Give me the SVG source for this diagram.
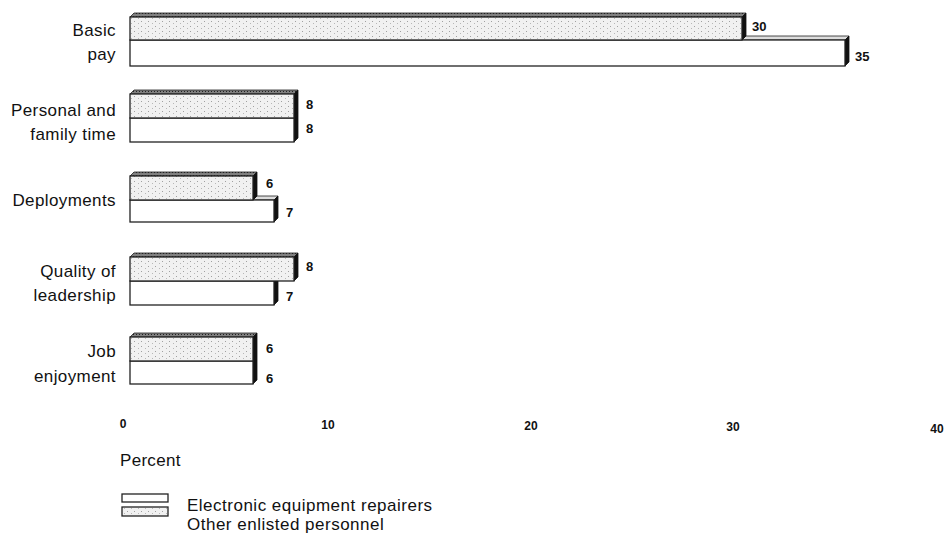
<svg xmlns="http://www.w3.org/2000/svg" width="948" height="538" viewBox="0 0 948 538">
<defs>
<pattern id="stip" width="7" height="5" patternUnits="userSpaceOnUse">
<rect width="7" height="5" fill="#f1f1f1"/>
<rect x="1" y="1" width="1" height="1" fill="#a0a0a0"/>
<rect x="5" y="3" width="1" height="1" fill="#b8b8b8"/>
</pattern>
<pattern id="darkstip" width="3" height="3" patternUnits="userSpaceOnUse">
<rect width="3" height="3" fill="#808080"/>
<rect x="1" y="1" width="1" height="1" fill="#222"/>
</pattern>
<style>
.lbl{font-family:"Liberation Sans",Arial,sans-serif;font-size:17px;letter-spacing:0.4px;fill:#111;text-anchor:end}
.val{font-family:"Liberation Sans",Arial,sans-serif;font-size:13px;font-weight:bold;fill:#111}
.ax{font-family:"Liberation Sans",Arial,sans-serif;font-size:12px;font-weight:bold;fill:#111;text-anchor:middle}
.txt{font-family:"Liberation Sans",Arial,sans-serif;font-size:17px;letter-spacing:0.5px;fill:#111}
.front{stroke:#222;stroke-width:1.3}
.w{fill:#fff}
.s{fill:url(#stip)}
.top{fill:url(#darkstip);stroke:#222;stroke-width:0.8}
.topw{fill:#ddd;stroke:#222;stroke-width:0.8}
.side{fill:#111;stroke:#111;stroke-width:0.8}
</style>
</defs>

<g id="basic-pay">
<text class="lbl" x="116" y="36">Basic</text>
<text class="lbl" x="116" y="60">pay</text>
<polygon class="topw" points="742,40 746,36 849,36 845,40"/>
<polygon class="side" points="845,40 849,36 849,62 845,66"/>
<rect class="front w" x="130" y="40" width="715" height="26"/>
<polygon class="top" points="130,17 134,13 746,13 742,17"/>
<polygon class="side" points="742,17 746,13 746,36 742,40"/>
<rect class="front s" x="130" y="17" width="612" height="23"/>
<text class="val" x="752" y="31">30</text>
<text class="val" x="855" y="61">35</text>
</g>

<g id="personal-family-time">
<text class="lbl" x="116" y="116">Personal and</text>
<text class="lbl" x="116" y="140">family time</text>
<polygon class="side" points="294,118 298,114 298,138 294,142"/>
<rect class="front w" x="130" y="118" width="164" height="24"/>
<polygon class="top" points="130,94 134,90 298,90 294,94"/>
<polygon class="side" points="294,94 298,90 298,114 294,118"/>
<rect class="front s" x="130" y="94" width="164" height="24"/>
<text class="val" x="306" y="109">8</text>
<text class="val" x="306" y="133">8</text>
</g>

<g id="deployments">
<text class="lbl" x="116" y="206">Deployments</text>
<polygon class="topw" points="253,200 257,196 278,196 274,200"/>
<polygon class="side" points="274,200 278,196 278,218 274,222"/>
<rect class="front w" x="130" y="200" width="144" height="22"/>
<polygon class="top" points="130,176 134,172 257,172 253,176"/>
<polygon class="side" points="253,176 257,172 257,196 253,200"/>
<rect class="front s" x="130" y="176" width="123" height="24"/>
<text class="val" x="266" y="188">6</text>
<text class="val" x="286" y="217">7</text>
</g>

<g id="quality-of-leadership">
<text class="lbl" x="116" y="277">Quality of</text>
<text class="lbl" x="116" y="301">leadership</text>
<polygon class="side" points="274,281 278,277 278,301 274,305"/>
<rect class="front w" x="130" y="281" width="144" height="24"/>
<polygon class="top" points="130,257 134,253 298,253 294,257"/>
<polygon class="side" points="294,257 298,253 298,277 294,281"/>
<rect class="front s" x="130" y="257" width="164" height="24"/>
<text class="val" x="306" y="271">8</text>
<text class="val" x="286" y="301">7</text>
</g>

<g id="job-enjoyment">
<text class="lbl" x="116" y="357">Job</text>
<text class="lbl" x="116" y="382">enjoyment</text>
<polygon class="side" points="253,361 257,357 257,380 253,384"/>
<rect class="front w" x="130" y="361" width="123" height="23"/>
<polygon class="top" points="130,337 134,333 257,333 253,337"/>
<polygon class="side" points="253,337 257,333 257,357 253,361"/>
<rect class="front s" x="130" y="337" width="123" height="24"/>
<text class="val" x="266" y="353">6</text>
<text class="val" x="266" y="383">6</text>
</g>

<g id="axis">
<text class="ax" x="123" y="428">0</text>
<text class="ax" x="328" y="429">10</text>
<text class="ax" x="531" y="430">20</text>
<text class="ax" x="733" y="431">30</text>
<text class="ax" x="937" y="433">40</text>
<text class="txt" x="120" y="466" style="letter-spacing:0.3px">Percent</text>
</g>

<g id="legend">
<rect x="122" y="494" width="46" height="8" fill="#fff" stroke="#222" stroke-width="1.3"/>
<text class="txt" x="187" y="511">Electronic equipment repairers</text>
<rect x="122" y="507" width="46" height="9" fill="url(#stip)" stroke="#222" stroke-width="1.3"/>
<text class="txt" x="187" y="530">Other enlisted personnel</text>
</g>
</svg>
